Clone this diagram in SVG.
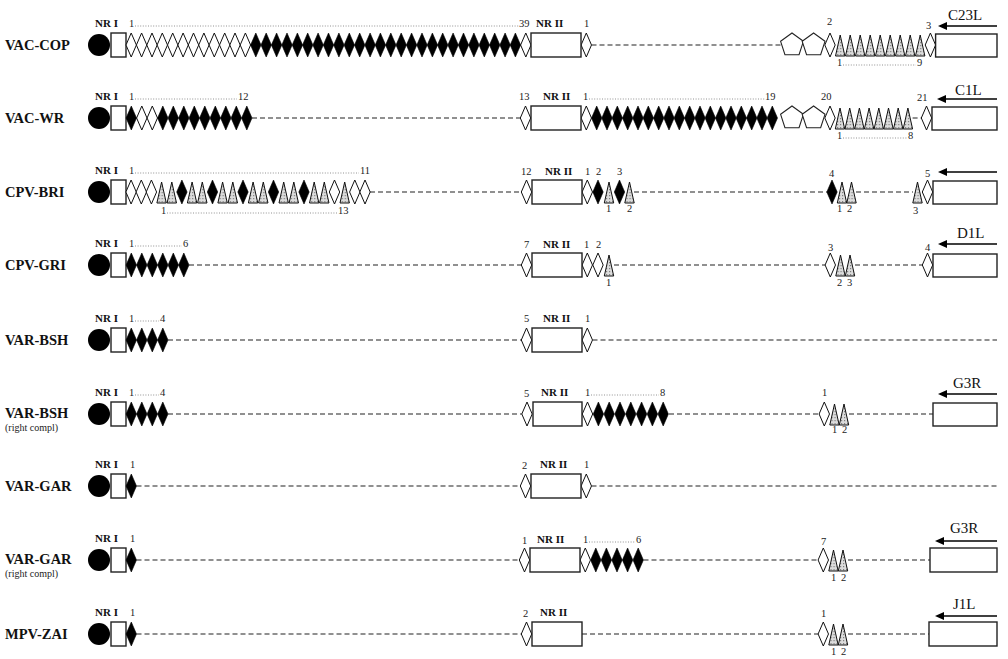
<svg xmlns="http://www.w3.org/2000/svg" width="1008" height="659" viewBox="0 0 1008 659">
<style>
.lbl{font:bold 14.5px "Liberation Serif",serif;fill:#111}
.sub{font:10px "Liberation Serif",serif;fill:#222}
.nr{font:bold 11px "Liberation Serif",serif;fill:#111}
.n{font:10.5px "Liberation Serif",serif;fill:#222}
.gene{font:15px "Liberation Serif",serif;fill:#111}
.box{fill:#fff;stroke:#222;stroke-width:1.4}
.w{fill:#fff;stroke:#111;stroke-width:1}
.b{fill:#000;stroke:#000;stroke-width:0.6}
.t{fill:url(#stip);stroke:#111;stroke-width:1}
.p{fill:#fff;stroke:#222;stroke-width:1.1}
.dash{stroke:#222;stroke-width:1.1;stroke-dasharray:5 3;fill:none}
.dot{stroke:#777;stroke-width:0.8;stroke-dasharray:1 1.6;fill:none}
.arr{stroke:#000;stroke-width:1.3;fill:none;marker-end:url(#ah)}
</style>
<defs>
<pattern id="stip" width="3" height="3" patternUnits="userSpaceOnUse"><rect width="3" height="3" fill="#dcdcdc"/><rect width="1.2" height="1.2" fill="#808080"/></pattern>
<path id="dm" d="M0,-12L5.2,0L0,12L-5.2,0Z"/>
<path id="tr" d="M0,-10L4.7,11L-4.7,11Z"/>
<path id="pg" d="M0,-12L11.4,-3.7L7.05,9.7L-7.05,9.7L-11.4,-3.7Z"/>
<marker id="ah" markerUnits="userSpaceOnUse" markerWidth="10" markerHeight="8" refX="1" refY="4" orient="auto"><path d="M0,0L9,4L0,8Z" fill="#000"/></marker>
</defs>
<rect width="1008" height="659" fill="#fff"/>

<g id="connectors">
<line class="dash" x1="591.5" y1="45" x2="780.6" y2="45"/>
<line class="dash" x1="252" y1="118" x2="520.3" y2="118"/>
<line class="dash" x1="912.6" y1="118" x2="921.3" y2="118"/>
<line class="dash" x1="370" y1="192" x2="521.3" y2="192"/>
<line class="dash" x1="634" y1="192" x2="826.8" y2="192"/>
<line class="dash" x1="856" y1="192" x2="913" y2="192"/>
<line class="dash" x1="189" y1="265" x2="521.3" y2="265"/>
<line class="dash" x1="614" y1="265" x2="825" y2="265"/>
<line class="dash" x1="855" y1="265" x2="922.3" y2="265"/>
<line class="dash" x1="168" y1="340" x2="521.3" y2="340"/>
<line class="dash" x1="592.5" y1="340" x2="997" y2="340"/>
<line class="dash" x1="168" y1="414" x2="521.8" y2="414"/>
<line class="dash" x1="669" y1="414" x2="819" y2="414"/>
<line class="dash" x1="849" y1="414" x2="933" y2="414"/>
<line class="dash" x1="136.5" y1="486" x2="520.3" y2="486"/>
<line class="dash" x1="591.5" y1="486" x2="997" y2="486"/>
<line class="dash" x1="136.5" y1="560" x2="519.3" y2="560"/>
<line class="dash" x1="643.5" y1="560" x2="818" y2="560"/>
<line class="dash" x1="848" y1="560" x2="930" y2="560"/>
<line class="dash" x1="136.5" y1="634" x2="521.3" y2="634"/>
<line class="dash" x1="582" y1="634" x2="818" y2="634"/>
<line class="dash" x1="848" y1="634" x2="929" y2="634"/>
</g>

<g id="row-vac-cop">
<text class="lbl" x="5" y="50">VAC-COP</text>
<circle cx="99" cy="45" r="11" fill="#000"/>
<rect class="box" x="111" y="33" width="15" height="24"/>
<text class="nr" x="95" y="27">NR I</text>
<text class="n" x="129" y="27">1</text><line class="dot" x1="135" y1="26" x2="519" y2="26"/><text class="n" x="519" y="27">39</text>
<g class="w" transform="translate(0,45)"><use href="#dm" x="131.2"/><use href="#dm" x="141.6"/><use href="#dm" x="152"/><use href="#dm" x="162.3"/><use href="#dm" x="172.7"/><use href="#dm" x="183.1"/><use href="#dm" x="193.5"/><use href="#dm" x="203.9"/><use href="#dm" x="214.3"/><use href="#dm" x="224.7"/><use href="#dm" x="235"/><use href="#dm" x="245.4"/><use href="#dm" x="525.8"/><use href="#dm" x="586.3"/><use href="#dm" x="830"/><use href="#dm" x="930.4"/></g>
<g class="b" transform="translate(0,45)"><use href="#dm" x="255.8"/><use href="#dm" x="266.2"/><use href="#dm" x="276.6"/><use href="#dm" x="287"/><use href="#dm" x="297.4"/><use href="#dm" x="307.7"/><use href="#dm" x="318.1"/><use href="#dm" x="328.5"/><use href="#dm" x="338.9"/><use href="#dm" x="349.3"/><use href="#dm" x="359.7"/><use href="#dm" x="370.1"/><use href="#dm" x="380.4"/><use href="#dm" x="390.8"/><use href="#dm" x="401.2"/><use href="#dm" x="411.6"/><use href="#dm" x="422"/><use href="#dm" x="432.4"/><use href="#dm" x="442.7"/><use href="#dm" x="453.1"/><use href="#dm" x="463.5"/><use href="#dm" x="473.9"/><use href="#dm" x="484.3"/><use href="#dm" x="494.7"/><use href="#dm" x="505.1"/><use href="#dm" x="515.4"/></g>
<rect class="box" x="531" y="33" width="50" height="24"/>
<text class="nr" x="536" y="27">NR II</text>
<text class="n" x="584" y="27">1</text>
<g class="p" transform="translate(0,45)"><use href="#pg" x="792"/><use href="#pg" x="813.6"/></g>
<text class="n" x="827" y="25">2</text>
<g class="t" transform="translate(0,45)"><use href="#tr" x="840.2"/><use href="#tr" x="850.2"/><use href="#tr" x="860.2"/><use href="#tr" x="870.2"/><use href="#tr" x="880.2"/><use href="#tr" x="890.2"/><use href="#tr" x="900.2"/><use href="#tr" x="910.2"/><use href="#tr" x="920.2"/></g>
<text class="n" x="837" y="66">1</text><line class="dot" x1="843" y1="65" x2="916" y2="65"/><text class="n" x="917" y="66">9</text>
<text class="n" x="926" y="29">3</text>
<rect class="box" x="935.6" y="34" width="61.4" height="23"/>
<line class="arr" x1="997" y1="26" x2="946" y2="26"/>
<text class="gene" x="948" y="20">C23L</text>
</g>

<g id="row-vac-wr">
<text class="lbl" x="5" y="123">VAC-WR</text>
<circle cx="99" cy="118" r="11" fill="#000"/>
<rect class="box" x="111" y="106" width="15" height="24"/>
<text class="nr" x="95" y="100">NR I</text>
<text class="n" x="129" y="100">1</text><line class="dot" x1="135" y1="99" x2="237" y2="99"/><text class="n" x="238" y="100">12</text>
<g class="w" transform="translate(0,118)"><use href="#dm" x="141.8"/><use href="#dm" x="152.3"/><use href="#dm" x="525.5"/><use href="#dm" x="586.3"/><use href="#dm" x="830"/><use href="#dm" x="926.5"/></g>
<g class="b" transform="translate(0,118)"><use href="#dm" x="131.3"/><use href="#dm" x="162.8"/><use href="#dm" x="173.3"/><use href="#dm" x="183.8"/><use href="#dm" x="194.3"/><use href="#dm" x="204.8"/><use href="#dm" x="215.3"/><use href="#dm" x="225.8"/><use href="#dm" x="236.3"/><use href="#dm" x="246.8"/><use href="#dm" x="596.7"/><use href="#dm" x="607"/><use href="#dm" x="617.3"/><use href="#dm" x="627.7"/><use href="#dm" x="638"/><use href="#dm" x="648.3"/><use href="#dm" x="658.7"/><use href="#dm" x="669"/><use href="#dm" x="679.3"/><use href="#dm" x="689.7"/><use href="#dm" x="700"/><use href="#dm" x="710.3"/><use href="#dm" x="720.7"/><use href="#dm" x="731"/><use href="#dm" x="741.3"/><use href="#dm" x="751.7"/><use href="#dm" x="762"/><use href="#dm" x="772.3"/></g>
<text class="n" x="519" y="100">13</text>
<rect class="box" x="531" y="106" width="50" height="24"/>
<text class="nr" x="543" y="100">NR II</text>
<text class="n" x="583" y="100">1</text><line class="dot" x1="589" y1="99" x2="765" y2="99"/><text class="n" x="765" y="100">19</text>
<g class="p" transform="translate(0,118)"><use href="#pg" x="792"/><use href="#pg" x="813.6"/></g>
<text class="n" x="821" y="100">20</text>
<g class="t" transform="translate(0,118)"><use href="#tr" x="840"/><use href="#tr" x="849.7"/><use href="#tr" x="859.4"/><use href="#tr" x="869.1"/><use href="#tr" x="878.8"/><use href="#tr" x="888.5"/><use href="#tr" x="898.2"/><use href="#tr" x="907.9"/></g>
<text class="n" x="837" y="139">1</text><line class="dot" x1="843" y1="138" x2="907" y2="138"/><text class="n" x="908" y="139">8</text>
<text class="n" x="917" y="101">21</text>
<rect class="box" x="932" y="107" width="65" height="23"/>
<line class="arr" x1="997" y1="99" x2="945" y2="99"/>
<text class="gene" x="955" y="95">C1L</text>
</g>

<g id="row-cpv-bri">
<text class="lbl" x="5" y="197">CPV-BRI</text>
<circle cx="99" cy="192" r="11" fill="#000"/>
<rect class="box" x="111" y="180" width="15" height="24"/>
<text class="nr" x="95" y="174">NR I</text>
<text class="n" x="129" y="174">1</text><line class="dot" x1="135" y1="173" x2="359" y2="173"/><text class="n" x="360" y="174">11</text>
<text class="n" x="161" y="214">1</text><line class="dot" x1="167" y1="213" x2="337" y2="213"/><text class="n" x="338" y="214">13</text>
<g class="w" transform="translate(0,192)"><use href="#dm" x="131.1"/><use href="#dm" x="141.3"/><use href="#dm" x="151.4"/><use href="#dm" x="334.5"/><use href="#dm" x="354.8"/><use href="#dm" x="365"/><use href="#dm" x="526.5"/><use href="#dm" x="587.3"/><use href="#dm" x="927.5"/></g>
<g class="b" transform="translate(0,192)"><use href="#dm" x="181.9"/><use href="#dm" x="212.5"/><use href="#dm" x="243"/><use href="#dm" x="273.5"/><use href="#dm" x="304"/><use href="#dm" x="598"/><use href="#dm" x="619.5"/><use href="#dm" x="832"/></g>
<g class="t" transform="translate(0,192)"><use href="#tr" x="161.6"/><use href="#tr" x="171.8"/><use href="#tr" x="192.1"/><use href="#tr" x="202.3"/><use href="#tr" x="222.6"/><use href="#tr" x="232.8"/><use href="#tr" x="253.1"/><use href="#tr" x="263.3"/><use href="#tr" x="283.7"/><use href="#tr" x="293.8"/><use href="#tr" x="314.2"/><use href="#tr" x="324.3"/><use href="#tr" x="344.7"/><use href="#tr" x="609"/><use href="#tr" x="629.5"/><use href="#tr" x="842"/><use href="#tr" x="851.5"/><use href="#tr" x="917.5"/></g>
<text class="n" x="521" y="175">12</text>
<rect class="box" x="532" y="180" width="50" height="24"/>
<text class="nr" x="545" y="175">NR II</text>
<text class="n" x="585" y="175">1</text><text class="n" x="596" y="175">2</text><text class="n" x="617" y="175">3</text>
<text class="n" x="606" y="212">1</text><text class="n" x="627" y="212">2</text>
<text class="n" x="829" y="177">4</text>
<text class="n" x="837" y="212">1</text><text class="n" x="847" y="212">2</text>
<text class="n" x="913" y="214">3</text>
<text class="n" x="925" y="177">5</text>
<rect class="box" x="933" y="181" width="64" height="23"/>
<line class="arr" x1="997" y1="172" x2="946" y2="172"/>
</g>

<g id="row-cpv-gri">
<text class="lbl" x="5" y="270">CPV-GRI</text>
<circle cx="99" cy="265" r="11" fill="#000"/>
<rect class="box" x="111" y="253" width="15" height="24"/>
<text class="nr" x="95" y="247">NR I</text>
<text class="n" x="129" y="247">1</text><line class="dot" x1="135" y1="246" x2="182" y2="246"/><text class="n" x="183" y="247">6</text>
<g class="b" transform="translate(0,265)"><use href="#dm" x="131.3"/><use href="#dm" x="141.8"/><use href="#dm" x="152.3"/><use href="#dm" x="162.8"/><use href="#dm" x="173.3"/><use href="#dm" x="183.8"/></g>
<g class="w" transform="translate(0,265)"><use href="#dm" x="526.5"/><use href="#dm" x="587.3"/><use href="#dm" x="598"/><use href="#dm" x="830.3"/><use href="#dm" x="927.5"/></g>
<g class="t" transform="translate(0,265)"><use href="#tr" x="609"/><use href="#tr" x="840.5"/><use href="#tr" x="850"/></g>
<text class="n" x="524" y="248">7</text>
<rect class="box" x="532" y="253" width="50" height="24"/>
<text class="nr" x="543" y="248">NR II</text>
<text class="n" x="584" y="248">1</text><text class="n" x="596" y="248">2</text>
<text class="n" x="606" y="286">1</text>
<text class="n" x="828" y="251">3</text>
<text class="n" x="837" y="286">2</text><text class="n" x="847" y="286">3</text>
<text class="n" x="925" y="251">4</text>
<rect class="box" x="933" y="254" width="64" height="23"/>
<line class="arr" x1="997" y1="244" x2="946" y2="244"/>
<text class="gene" x="957" y="238">D1L</text>
</g>

<g id="row-var-bsh">
<text class="lbl" x="5" y="345">VAR-BSH</text>
<circle cx="99" cy="340" r="11" fill="#000"/>
<rect class="box" x="111" y="328" width="15" height="24"/>
<text class="nr" x="95" y="322">NR I</text>
<text class="n" x="129" y="322">1</text><line class="dot" x1="135" y1="321" x2="159" y2="321"/><text class="n" x="160" y="322">4</text>
<g class="b" transform="translate(0,340)"><use href="#dm" x="131.3"/><use href="#dm" x="141.8"/><use href="#dm" x="152.3"/><use href="#dm" x="162.8"/></g>
<g class="w" transform="translate(0,340)"><use href="#dm" x="526.5"/><use href="#dm" x="587.3"/></g>
<text class="n" x="524" y="322">5</text>
<rect class="box" x="532" y="328" width="50" height="24"/>
<text class="nr" x="543" y="322">NR II</text>
<text class="n" x="585" y="322">1</text>
</g>

<g id="row-var-bsh-rc">
<text class="lbl" x="5" y="418">VAR-BSH</text>
<text class="sub" x="5" y="431">(right compl)</text>
<circle cx="99" cy="414" r="11" fill="#000"/>
<rect class="box" x="111" y="402" width="15" height="24"/>
<text class="nr" x="95" y="396">NR I</text>
<text class="n" x="129" y="396">1</text><line class="dot" x1="135" y1="395" x2="159" y2="395"/><text class="n" x="160" y="396">4</text>
<g class="b" transform="translate(0,414)"><use href="#dm" x="131.3"/><use href="#dm" x="141.8"/><use href="#dm" x="152.3"/><use href="#dm" x="162.8"/><use href="#dm" x="598.4"/><use href="#dm" x="609.2"/><use href="#dm" x="620"/><use href="#dm" x="630.8"/><use href="#dm" x="641.6"/><use href="#dm" x="652.4"/><use href="#dm" x="663.2"/></g>
<g class="w" transform="translate(0,414)"><use href="#dm" x="527"/><use href="#dm" x="587.5"/><use href="#dm" x="824.3"/></g>
<g class="t" transform="translate(0,414)"><use href="#tr" x="834.5"/><use href="#tr" x="844"/></g>
<text class="n" x="524" y="397">5</text>
<rect class="box" x="533" y="402" width="49" height="24"/>
<text class="nr" x="541" y="396">NR II</text>
<text class="n" x="585" y="396">1</text><line class="dot" x1="591" y1="395" x2="659" y2="395"/><text class="n" x="660" y="396">8</text>
<text class="n" x="822" y="396">1</text>
<text class="n" x="832" y="433">1</text><text class="n" x="842" y="433">2</text>
<rect class="box" x="933" y="403" width="64" height="23"/>
<line class="arr" x1="997" y1="394" x2="946" y2="394"/>
<text class="gene" x="953" y="388">G3R</text>
</g>

<g id="row-var-gar">
<text class="lbl" x="5" y="491">VAR-GAR</text>
<circle cx="99" cy="486" r="11" fill="#000"/>
<rect class="box" x="111" y="474" width="15" height="24"/>
<text class="nr" x="95" y="468">NR I</text>
<text class="n" x="130" y="468">1</text>
<g class="b" transform="translate(0,486)"><use href="#dm" x="131.3"/></g>
<g class="w" transform="translate(0,486)"><use href="#dm" x="525.5"/><use href="#dm" x="586.3"/></g>
<text class="n" x="522" y="469">2</text>
<rect class="box" x="531" y="474" width="50" height="24"/>
<text class="nr" x="540" y="468">NR II</text>
<text class="n" x="584" y="468">1</text>
</g>

<g id="row-var-gar-rc">
<text class="lbl" x="5" y="564">VAR-GAR</text>
<text class="sub" x="5" y="577">(right compl)</text>
<circle cx="99" cy="560" r="11" fill="#000"/>
<rect class="box" x="111" y="548" width="15" height="24"/>
<text class="nr" x="95" y="542">NR I</text>
<text class="n" x="130" y="542">1</text>
<g class="b" transform="translate(0,560)"><use href="#dm" x="131.3"/><use href="#dm" x="595.8"/><use href="#dm" x="606.4"/><use href="#dm" x="617"/><use href="#dm" x="627.6"/><use href="#dm" x="638.2"/></g>
<g class="w" transform="translate(0,560)"><use href="#dm" x="524.5"/><use href="#dm" x="585.3"/><use href="#dm" x="823.3"/></g>
<g class="t" transform="translate(0,560)"><use href="#tr" x="833.5"/><use href="#tr" x="843"/></g>
<text class="n" x="522" y="544">1</text>
<rect class="box" x="530" y="548" width="50" height="24"/>
<text class="nr" x="537" y="543">NR II</text>
<text class="n" x="583" y="543">1</text><line class="dot" x1="589" y1="542" x2="635" y2="542"/><text class="n" x="636" y="543">6</text>
<text class="n" x="821" y="545">7</text>
<text class="n" x="831" y="581">1</text><text class="n" x="841" y="581">2</text>
<rect class="box" x="930" y="548" width="67" height="24"/>
<line class="arr" x1="997" y1="541" x2="943" y2="541"/>
<text class="gene" x="950" y="533">G3R</text>
</g>

<g id="row-mpv-zai">
<text class="lbl" x="5" y="639">MPV-ZAI</text>
<circle cx="99" cy="634" r="11" fill="#000"/>
<rect class="box" x="111" y="622" width="15" height="24"/>
<text class="nr" x="95" y="616">NR I</text>
<text class="n" x="130" y="616">1</text>
<g class="b" transform="translate(0,634)"><use href="#dm" x="131.3"/></g>
<g class="w" transform="translate(0,634)"><use href="#dm" x="526.5"/><use href="#dm" x="823.3"/></g>
<g class="t" transform="translate(0,634)"><use href="#tr" x="833.5"/><use href="#tr" x="843"/></g>
<text class="n" x="523" y="617">2</text>
<rect class="box" x="532" y="622" width="50" height="24"/>
<text class="nr" x="540" y="616">NR II</text>
<text class="n" x="821" y="617">1</text>
<text class="n" x="831" y="655">1</text><text class="n" x="841" y="655">2</text>
<rect class="box" x="929" y="622" width="68" height="24"/>
<line class="arr" x1="997" y1="616" x2="943" y2="616"/>
<text class="gene" x="953" y="609">J1L</text>
</g>
</svg>
